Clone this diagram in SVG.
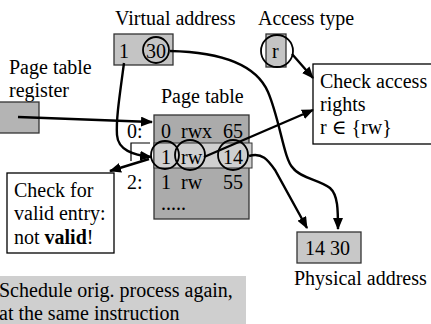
<svg xmlns="http://www.w3.org/2000/svg" width="431" height="324" viewBox="0 0 431 324" font-family="'Liberation Serif','Times New Roman','DejaVu Serif',serif">
<defs>
<style>
text{font-family:"Liberation Serif","Times New Roman","DejaVu Serif",serif;font-size:20px;fill:#000}
.box{stroke:#333;stroke-width:1.3}
.wbox{fill:#fff;stroke:#000;stroke-width:1.3}
.con{fill:none;stroke:#000;stroke-width:2.4}
.ring{fill:none;stroke:#000;stroke-width:1.8}
</style>
<marker id="ah" markerWidth="12" markerHeight="10" refX="11" refY="5" orient="auto" markerUnits="userSpaceOnUse">
<path d="M0,0 L12,5 L0,10 Z" fill="#000"/>
</marker>
</defs>
<rect x="0" y="276" width="246" height="50" fill="#cfcfcf"/>
<g id="schedule">
<text x="-1" y="297">Schedule orig. process again,</text>
<text x="-1" y="320">at the same instruction</text>
</g>
<g id="virtual-address">
<text x="115" y="25">Virtual address</text>
<rect class="box" x="114" y="34" width="59" height="31" fill="#c4c4c4"/>
<text x="119" y="58">1</text>
<text x="146" y="58">30</text>
<circle class="ring" cx="156" cy="50" r="13"/>
</g>
<g id="access-type">
<text x="258" y="25">Access type</text>
<rect class="box" x="266" y="34" width="20" height="33" fill="#c4c4c4"/>
<text x="272" y="58">r</text>
<circle class="ring" cx="277" cy="51" r="16"/>
</g>
<g id="check-access">
<rect class="wbox" x="313" y="64" width="130" height="80"/>
<text x="320" y="88">Check access</text>
<text x="320" y="111">rights</text>
<text x="320" y="134">r ∈ {rw}</text>
</g>
<g id="page-table-register">
<text x="9" y="74">Page table</text>
<text x="9" y="97">register</text>
<rect class="box" x="-2" y="102" width="41" height="31" fill="#b4b4b4"/>
</g>
<g id="page-table">
<text x="161" y="103">Page table</text>
<rect class="box" x="154" y="115" width="95" height="104" fill="#ababab"/>
<path d="M150,143 H131 V161" fill="none" stroke="#000" stroke-width="1.2"/>
<rect x="154" y="143" width="98" height="25" fill="#cfcfcf" stroke="#333" stroke-width="1"/>
<text x="127" y="138">0:</text>
<text x="161" y="138">0</text>
<text x="181" y="138">rwx</text>
<text x="223" y="138">65</text>
<text x="161" y="164">1</text>
<text x="181" y="164">rw</text>
<text x="223" y="164">14</text>
<text x="127" y="189">2:</text>
<text x="161" y="189">1</text>
<text x="181" y="189">rw</text>
<text x="223" y="189">55</text>
<text x="161" y="210">.....</text>
<circle class="ring" cx="165" cy="155" r="14"/>
<circle class="ring" cx="190" cy="155" r="15"/>
<circle class="ring" cx="233" cy="155" r="15"/>
</g>
<g id="check-valid">
<rect class="wbox" x="7" y="173" width="107" height="80"/>
<text x="14" y="197">Check for</text>
<text x="14" y="220">valid entry:</text>
<text x="14" y="244">not <tspan font-weight="bold">valid</tspan>!</text>
</g>
<g id="physical-address">
<rect class="box" x="297" y="232" width="64" height="31" fill="#c8c8c8"/>
<text x="305" y="255">14 30</text>
<text x="294" y="285">Physical address</text>
</g>
<g id="connectors">
<path class="con" d="M18,117 L152,122" marker-end="url(#ah)"/>
<path class="con" d="M124,63 C119,100 116,120 117,135 C118,150 133,155 151,157" marker-end="url(#ah)"/>
<path class="con" d="M149,159 L110,171" marker-end="url(#ah)"/>
<path class="con" d="M204,157 L313,110" marker-end="url(#ah)"/>
<path class="con" d="M292,54 L313,78" marker-end="url(#ah)"/>
<path class="con" d="M170,51 C215,52 255,62 268,92 C280,120 284,160 293,168 C300,178 320,180 330,188 C338,195 338,210 338,229" marker-end="url(#ah)"/>
<path class="con" d="M249,156 C262,152 268,160 275,170 L307,228" marker-end="url(#ah)"/>
</g>
</svg>
